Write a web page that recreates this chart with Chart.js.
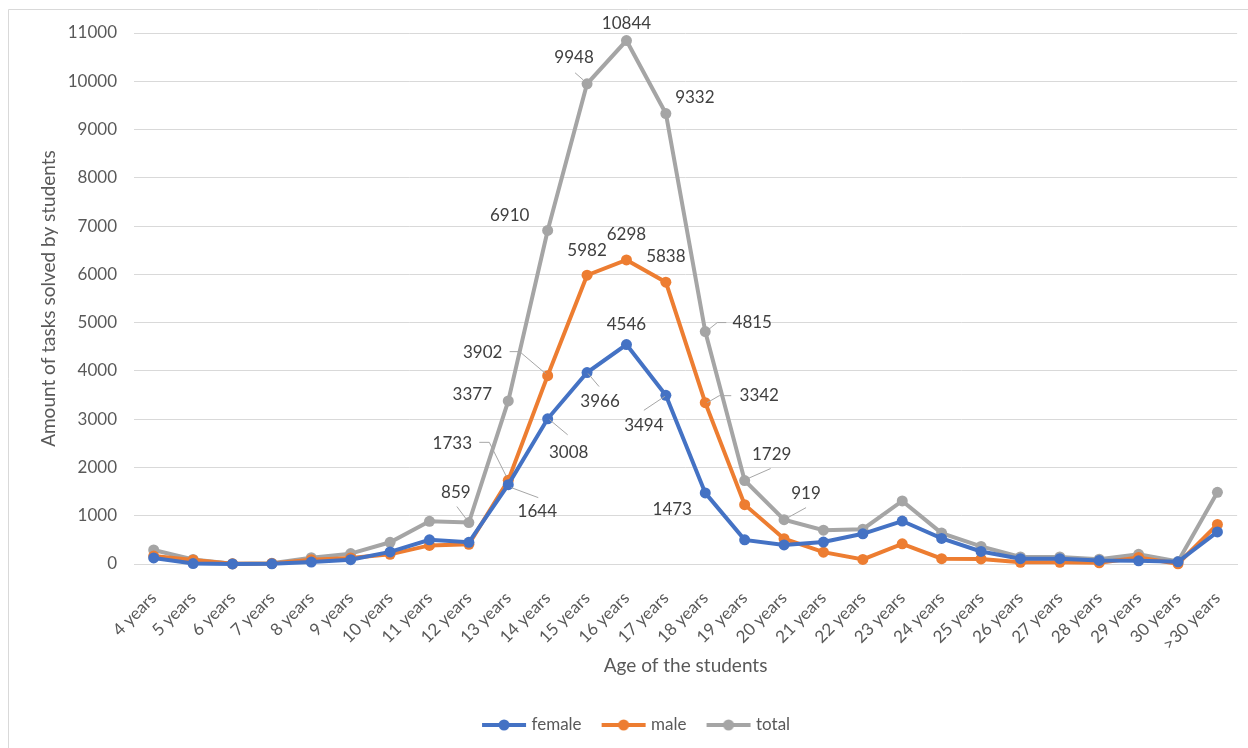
<!DOCTYPE html>
<html>
<head>
<meta charset="utf-8">
<script src="https://cdn.jsdelivr.net/npm/chart.js@4.4.1/dist/chart.umd.min.js"></script>
<style>
  html, body { margin: 0; padding: 0; background: #ffffff; }
  #wrap { width: 1248px; height: 748px; position: relative; }
</style>
</head>
<body>
<div id="wrap"><canvas id="chart" width="1248" height="748"></canvas></div>
<script>
// Age groups on the x axis
const ageGroups = ['4 years', '5 years', '6 years', '7 years', '8 years', '9 years', '10 years',
  '11 years', '12 years', '13 years', '14 years', '15 years', '16 years', '17 years', '18 years',
  '19 years', '20 years', '21 years', '22 years', '23 years', '24 years', '25 years', '26 years',
  '27 years', '28 years', '29 years', '30 years', '>30 years'];

// Tasks solved per age group
const femaleTasks = [125, 10, 2, 3, 40, 90, 250, 500, 450, 1644, 3008, 3966, 4546, 3494, 1473,
  500, 395, 455, 625, 890, 530, 260, 110, 110, 75, 65, 45, 665];
const maleTasks = [165, 85, 3, 12, 90, 125, 200, 385, 409, 1733, 3902, 5982, 6298, 5838, 3342,
  1229, 524, 245, 95, 417, 110, 105, 35, 35, 25, 135, 5, 820];
const totalTasks = [290, 95, 5, 15, 130, 215, 450, 885, 859, 3377, 6910, 9948, 10844, 9332, 4815,
  1729, 919, 700, 720, 1307, 640, 365, 145, 145, 100, 200, 50, 1485];

// y axis ticks
const yTicks = [0, 1000, 2000, 3000, 4000, 5000, 6000, 7000, 8000, 9000, 10000, 11000];

const seriesNames = ['female', 'male', 'total'];
const seriesColors = ['#4472C4', '#ED7D31', '#A5A5A5'];

// Which points carry a value label: [series, category, text dx, text dy, leader polyline]
const labelSpots = [
  [2, 8, -13, -30, [[-12, -16], [-3, -4]]],
  [2, 9, -36, -6, null],
  [2, 10, -38, -15, null],
  [2, 11, -13, -26, [[-12, -11], [-4, -4]]],
  [2, 12, 0, -17, null],
  [2, 13, 29, -16, null],
  [2, 14, 47, -9, [[2, -1], [12, -9], [21, -9]]],
  [2, 15, 27, -26, [[1, -1], [26, -12]]],
  [2, 16, 22, -26, [[2, -1], [22, -12]]],
  [1, 9, -56, -37, [[-29, -38], [-19, -38], [-2, -4]]],
  [1, 10, -65, -23, [[-38, -24], [-28, -24], [-2, -2]]],
  [1, 11, 0, -25, null],
  [1, 12, 0, -25, null],
  [1, 13, 0, -26, null],
  [1, 14, 54, -7, [[2, 0], [14, -7], [26, -7]]],
  [0, 9, 29, 27, [[3, 3], [30, 13]]],
  [0, 10, 21, 34, [[2, 1], [20, 16]]],
  [0, 11, 13, 29, [[1, 1], [12, 14]]],
  [0, 12, 0, -20, null],
  [0, 13, -22, 30, [[-1, 1], [-22, 15]]],
  [0, 14, -33, 17, null]
];

const FONT = 'Lato';
const AXIS_TEXT = '#595959';

// Legend symbol: short line with a dot in the middle
function legendSymbol(color) {
  const c = document.createElement('canvas');
  c.width = 46; c.height = 14;
  const g = c.getContext('2d');
  g.strokeStyle = color; g.lineWidth = 4; g.lineCap = 'butt';
  g.beginPath(); g.moveTo(1, 7); g.lineTo(45, 7); g.stroke();
  g.fillStyle = color;
  g.beginPath(); g.arc(23, 7, 5.5, 0, Math.PI * 2); g.fill();
  return c;
}
const legendSymbols = seriesColors.map(legendSymbol);

// Thin frame around the chart area
const framePlugin = {
  id: 'frame',
  beforeDraw(chart) {
    const ctx = chart.ctx;
    ctx.save();
    ctx.fillStyle = '#ffffff';
    ctx.fillRect(0, 0, chart.width, chart.height);
    ctx.strokeStyle = '#d9d9d9';
    ctx.lineWidth = 1;
    ctx.beginPath();
    ctx.moveTo(8.5, chart.height);
    ctx.lineTo(8.5, 9.5);
    ctx.lineTo(chart.width, 9.5);
    ctx.stroke();
    ctx.restore();
  }
};

// Centre the legend under the plot area rather than the whole canvas
const legendShiftPlugin = {
  id: 'legendShift',
  afterLayout(chart) {
    const lg = chart.legend;
    const area = chart.chartArea;
    const shift = (area.left + area.right) / 2 - (lg.left + lg.right) / 2 - 48;
    lg.left += shift;
    lg.right += shift;
    lg.top += 2;
    lg.bottom += 2;
  }
};

// Value labels with leader lines
const valueLabelPlugin = {
  id: 'valueLabels',
  afterDatasetsDraw(chart) {
    const ctx = chart.ctx;
    ctx.save();
    ctx.font = '17px ' + FONT;
    ctx.textAlign = 'center';
    ctx.textBaseline = 'middle';
    labelSpots.forEach(([s, i, dx, dy, leader]) => {
      const pt = chart.getDatasetMeta(s).data[i];
      const value = chart.data.datasets[s].data[i];
      if (leader) {
        ctx.strokeStyle = '#a6a6a6';
        ctx.lineWidth = 1;
        ctx.beginPath();
        leader.forEach(([lx, ly], k) => {
          const px = pt.x + lx, py = pt.y + ly;
          if (k === 0) ctx.moveTo(px, py); else ctx.lineTo(px, py);
        });
        ctx.stroke();
      }
      ctx.fillStyle = '#404040';
      ctx.fillText(String(value), pt.x + dx, pt.y + dy);
    });
    ctx.restore();
  }
};

const seriesData = [femaleTasks, maleTasks, totalTasks];

new Chart(document.getElementById('chart'), {
  type: 'line',
  data: {
    labels: ageGroups,
    datasets: seriesData.map((d, k) => ({
      label: seriesNames[k],
      data: d,
      borderColor: seriesColors[k],
      backgroundColor: seriesColors[k],
      borderWidth: 4,
      pointRadius: 5.5,
      pointHoverRadius: 5.5,
      pointBorderWidth: 0,
      pointBackgroundColor: seriesColors[k],
      tension: 0,
      clip: false
    }))
  },
  options: {
    responsive: false,
    animation: false,
    devicePixelRatio: 1,
    events: [],
    layout: { padding: { left: 9, right: 9, top: 33, bottom: 6.5 } },
    plugins: {
      tooltip: { enabled: false },
      legend: {
        position: 'bottom',
        labels: {
          usePointStyle: true,
          pointStyleWidth: 38,
          padding: 23,
          color: AXIS_TEXT,
          font: { family: FONT, size: 17 },
          generateLabels(chart) {
            const items = Chart.defaults.plugins.legend.labels.generateLabels(chart);
            items.forEach(it => { it.pointStyle = legendSymbols[it.datasetIndex]; });
            return items;
          }
        }
      }
    },
    scales: {
      x: {
        offset: true,
        grid: { display: false },
        border: { display: true, color: '#d9d9d9' },
        ticks: {
          color: AXIS_TEXT,
          font: { family: FONT, size: 17 },
          minRotation: 45,
          maxRotation: 45,
          autoSkip: false,
          padding: 16
        },
        title: {
          display: true,
          text: 'Age of the students',
          color: AXIS_TEXT,
          font: { family: FONT, size: 19 },
          padding: { top: 4, bottom: 14 }
        },
        afterFit(scale) { scale.height = 127.5; }
      },
      y: {
        min: 0,
        max: 11000,
        afterBuildTicks(scale) { scale.ticks = yTicks.map(v => ({ value: v })); },
        grid: { color: '#d9d9d9', lineWidth: 1, drawTicks: false },
        border: { display: false },
        ticks: {
          color: AXIS_TEXT,
          font: { family: FONT, size: 17 },
          padding: 17,
          callback: v => String(v)
        },
        title: {
          display: true,
          text: 'Amount of tasks solved by students',
          color: AXIS_TEXT,
          font: { family: FONT, size: 19 },
          padding: { top: 28.6, bottom: 0 }
        },
        afterFit(scale) { scale.width = 125; }
      }
    }
  },
  plugins: [framePlugin, legendShiftPlugin, valueLabelPlugin]
});
</script>
</body>
</html>
